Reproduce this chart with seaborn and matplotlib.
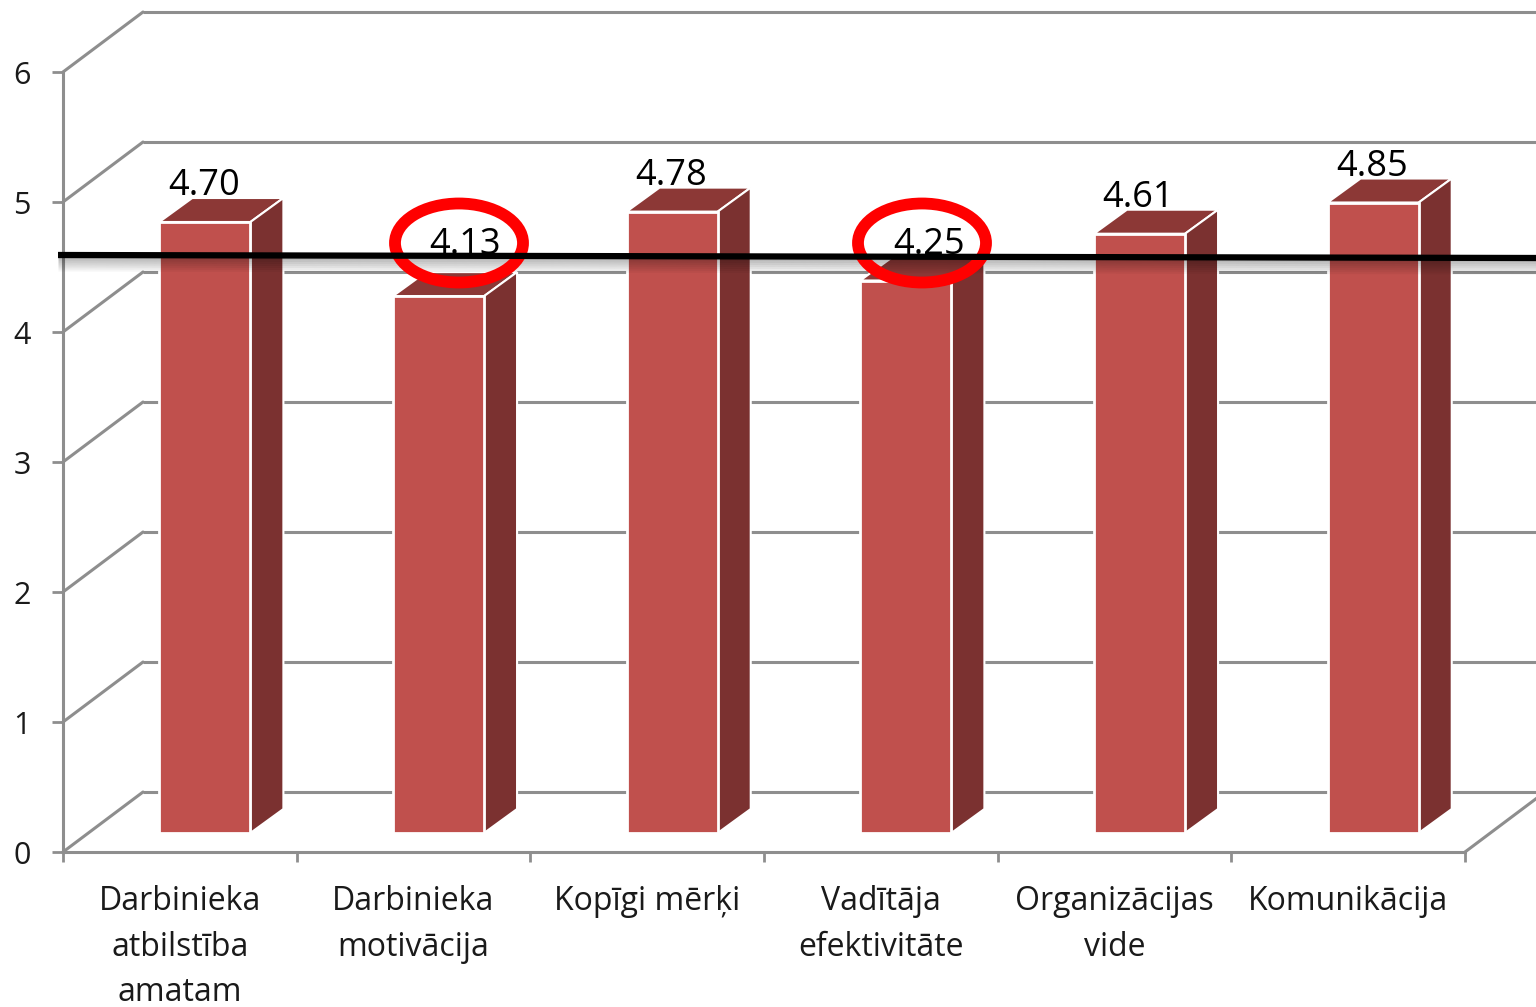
import matplotlib
matplotlib.use('Agg')
import matplotlib.pyplot as plt
from matplotlib.lines import Line2D
from matplotlib.patches import Ellipse, Polygon
from matplotlib.transforms import Affine2D, IdentityTransform
import numpy as np
import pandas as pd
import seaborn as sns

factors = ['Darbinieka\natbilstība\namatam', 'Darbinieka\nmotivācija', 'Kopīgi mērķi',
           'Vadītāja\nefektivitāte', 'Organizācijas\nvide', 'Komunikācija']
scores = [4.70, 4.13, 4.78, 4.25, 4.61, 4.85]
value_ticks = [0, 1, 2, 3, 4, 5, 6]

FRONT = '#C0504D'
TOP = '#8C3836'
SIDE = '#7B3130'
GRID = '#8E8E8E'
TEXT = '#1a1a1a'

W, H = 1536, 1007
BAR_SHIFT = np.array([25, 19])     # bars stand a little behind the front plane
BAR_DEPTH = np.array([33, 24])
WALL_SHIFT = np.array([80, 60])    # back wall, pixels
# labels that were moved by hand in the original, index -> pixels (right, up)
LABEL_NUDGE = {1: (28, 15), 3: (24, 0)}

sns.set_theme(style='white')
plt.rcParams['font.family'] = ['Open Sans', 'DejaVu Sans']

df = pd.DataFrame({'factor': factors, 'score': scores})

fig = plt.figure(figsize=(W / 100, H / 100), dpi=100, facecolor='white')
ax = fig.add_axes([63 / W, (H - 852) / H, (1465 - 63) / W, 780 / H], facecolor='none')

sns.barplot(data=df, x='factor', y='score', color=FRONT, saturation=1, width=0.39,
            edgecolor='white', linewidth=2, ax=ax, zorder=3)
ax.set_xlim(-0.5, 5.5)
ax.set_ylim(0, 6)
ax.set_xlabel('')
ax.set_ylabel('')
sns.despine(ax=ax)
for side in ['left', 'bottom']:
    ax.spines[side].set_color(GRID)
    ax.spines[side].set_linewidth(2.2)

# ticks sit on the category borders, the names between them
ax.set_xticks(np.arange(-0.5, 6), labels=[])
ax.set_xticks(np.arange(6), labels=factors, minor=True)
ax.tick_params(axis='x', which='major', length=7, width=2, color=GRID, bottom=True)
ax.tick_params(axis='x', which='minor', length=0, pad=24, labelsize=23, labelcolor=TEXT)
for lab in ax.get_xticklabels(minor=True):
    lab.set_linespacing(1.5)
ax.set_yticks(value_ticks)
ax.tick_params(axis='y', length=8, width=2, color=GRID, left=True, pad=15, labelsize=22, labelcolor=TEXT)

# back wall grid and the diagonals on the side wall
wall = ax.transData + Affine2D().translate(*WALL_SHIFT)
ax.hlines(value_ticks, -0.5, 5.5, transform=wall, color=GRID, lw=2.2, zorder=1, clip_on=False)
for v in value_ticks:
    start = ax.transData.transform((-0.5, v))
    ax.add_line(Line2D(*zip(start, start + WALL_SHIFT), transform=IdentityTransform(),
                       color=GRID, lw=2.2, zorder=1, clip_on=False))
start = ax.transData.transform((5.5, 0))
ax.add_line(Line2D(*zip(start, start + WALL_SHIFT), transform=IdentityTransform(),
                   color=GRID, lw=2.2, zorder=1, clip_on=False))

# move the bars back and give them a top and a side
bar_trans = ax.transData + Affine2D().translate(*BAR_SHIFT)
for i, bar in enumerate(ax.patches):
    bar.set_transform(bar_trans)
    bar.set_clip_on(False)
    x0, x1 = bar.get_x(), bar.get_x() + bar.get_width()
    h = bar.get_height()
    bl = bar_trans.transform((x0, 0))
    br = bar_trans.transform((x1, 0))
    tl = bar_trans.transform((x0, h))
    tr = bar_trans.transform((x1, h))
    ax.add_patch(Polygon([tl, tr, tr + BAR_DEPTH, tl + BAR_DEPTH], closed=True, facecolor=TOP,
                         edgecolor='white', lw=1.5, transform=IdentityTransform(), zorder=2, clip_on=False))
    ax.add_patch(Polygon([br, tr, tr + BAR_DEPTH, br + BAR_DEPTH], closed=True, facecolor=SIDE,
                         edgecolor='white', lw=1.5, transform=IdentityTransform(), zorder=2, clip_on=False))
    dx, dy = LABEL_NUDGE.get(i, (0, 0))
    cx = (tl[0] + tr[0]) / 2
    ax.text(cx + dx - 1, tl[1] + 36 + dy, f'{h:.2f}', transform=IdentityTransform(), ha='center', va='center',
            fontsize=26, color='black', zorder=5)

# hand drawn marks on top: average line with its shadow, and the two circles
over = fig.add_axes([0, 0, 1, 1], facecolor='none')
over.set_xlim(0, W)
over.set_ylim(H, 0)
over.axis('off')
line_x = [58, W]
line_y = np.array([255, 258])
for k in range(8):
    over.fill_between(line_x, line_y + k * 2, line_y + k * 2 + 2, color='black',
                      alpha=0.32 * (1 - k / 8), lw=0)
over.plot(line_x, line_y, color='black', lw=4.5, solid_capstyle='butt')
for cx in [459, 922]:
    over.add_patch(Ellipse((cx, 243), 128, 79, fill=False, edgecolor='#FF0000', lw=8.5))

plt.savefig('out.png', dpi=100)
plt.close()
